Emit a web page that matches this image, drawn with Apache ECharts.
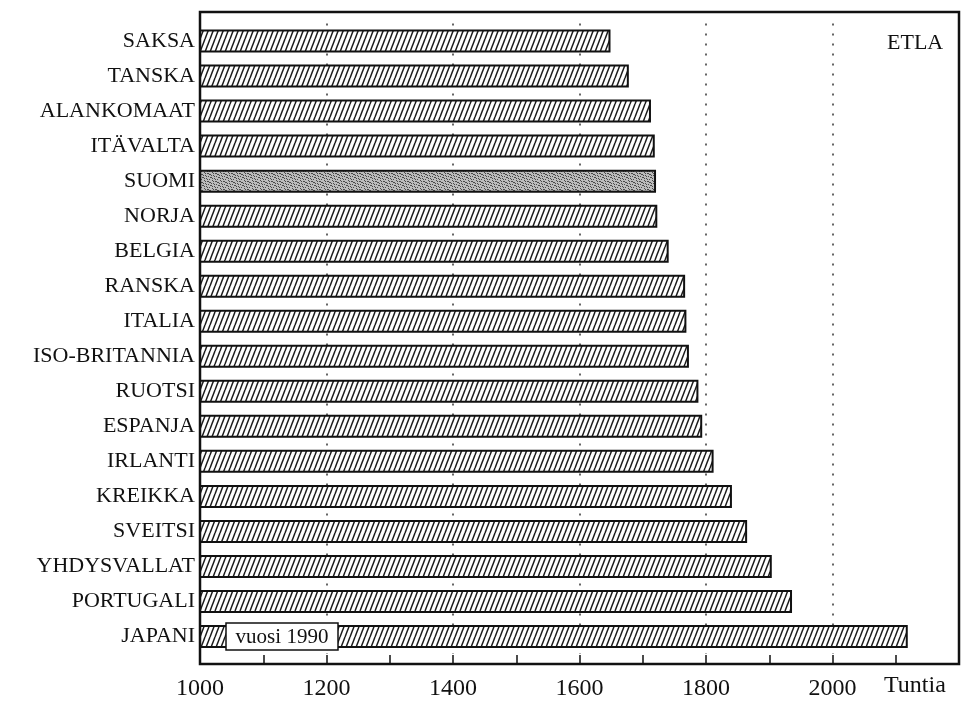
<!DOCTYPE html>
<html>
<head>
<meta charset="utf-8">
<script src="https://cdn.jsdelivr.net/npm/echarts@6/dist/echarts.min.js"></script>
<style>
html,body{margin:0;padding:0;background:#fff;}
#chart{width:970px;height:703px;}
</style>
</head>
<body>
<div id="chart"></div>
<script>
// Data (hours worked per year, 1990)
const categories = ['SAKSA','TANSKA','ALANKOMAAT','ITÄVALTA','SUOMI','NORJA','BELGIA','RANSKA','ITALIA','ISO-BRITANNIA','RUOTSI','ESPANJA','IRLANTI','KREIKKA','SVEITSI','YHDYSVALLAT','PORTUGALI','JAPANI'];
const hours = [1649,1678,1713,1719,1721,1723,1741,1767,1769,1773,1788,1794,1812,1841,1865,1904,1936,2119];
const tickLabels = [1000,1200,1400,1600,1800,2000];
const highlight = 'SUOMI';
const axisUnit = 'Tuntia';
const sourceText = 'ETLA';
const yearNote = 'vuosi 1990';

const serif = '"Liberation Serif","DejaVu Serif",serif';

function hatchPattern(){
  const c = document.createElement('canvas');
  c.width = 5; c.height = 13;
  const g = c.getContext('2d');
  g.fillStyle = '#fff'; g.fillRect(0,0,5,13);
  g.strokeStyle = '#1a1a1a'; g.lineWidth = 1.5;
  for (let k=-1;k<=1;k++){
    g.beginPath(); g.moveTo(k*5, 13); g.lineTo(k*5+5, 0); g.stroke();
  }
  return c;
}
function stipplePattern(){
  const c = document.createElement('canvas');
  c.width = 8; c.height = 8;
  const g = c.getContext('2d');
  g.fillStyle = '#bcbcbc'; g.fillRect(0,0,8,8);
  g.fillStyle = '#4a4a4a';
  const pts = [[0,0],[3,1],[6,2],[1,3],[4,4],[7,5],[2,6],[5,7],[2,1],[7,3],[0,5],[5,5],[6,0],[1,6],[4,2],[3,7]];
  pts.forEach(p=>g.fillRect(p[0],p[1],1,1));
  return c;
}
const hatch = {image: hatchPattern(), repeat:'repeat'};
const stipple = {image: stipplePattern(), repeat:'repeat'};

const seriesData = hours.map((v,i)=> categories[i]===highlight
  ? {value:v, itemStyle:{color: stipple}}
  : v);

const chart = echarts.init(document.getElementById('chart'), null, {renderer:'canvas'});

chart.setOption({
  backgroundColor:'#fff',
  animation:false,
  grid:{left:200, right:11, top:23.5, bottom:49, containLabel:false},
  xAxis:{
    type:'value', min:1000, max:2200, interval:200, offset:10,
    axisLine:{show:false},
    axisTick:{show:true, inside:true, length:9, lineStyle:{color:'#111', width:1.5}},
    minorTick:{show:true, splitNumber:2, length:9, lineStyle:{color:'#111', width:1.5}},
    splitLine:{show:true, lineStyle:{color:'#333', type:[2,8], width:1.5}},
    axisLabel:{
      color:'#111', fontFamily:serif, fontSize:24, margin:13,
      formatter: v => tickLabels.indexOf(v) >= 0 ? String(v) : ''
    }
  },
  yAxis:{
    type:'category', data:categories, inverse:true,
    axisLine:{show:false}, axisTick:{show:false}, splitLine:{show:false},
    axisLabel:{color:'#111', fontFamily:serif, fontSize:22, margin:5}
  },
  series:[{
    type:'bar', data:seriesData, barWidth:23,
    itemStyle:{color:hatch, borderColor:'#111', borderWidth:2}
  }],
  graphic:[
    {type:'rect', z:100, shape:{x:200, y:12, width:759, height:652},
     style:{fill:null, stroke:'#111', lineWidth:2.5}},
    {type:'text', z:100, left:887, top:32,
     style:{text:sourceText, font:'22px '+serif, fill:'#111'}},
    {type:'text', z:100, left:884, top:674,
     style:{text:axisUnit, font:'24px '+serif, fill:'#111'}},
    {type:'rect', z:101, shape:{x:226, y:623, width:112, height:27},
     style:{fill:'#fff', stroke:'#111', lineWidth:1.5}},
    {type:'text', z:102, x:282, y:637,
     style:{text:yearNote, font:'21px '+serif, fill:'#111', align:'center', verticalAlign:'middle'}}
  ]
});
</script>
</body>
</html>
